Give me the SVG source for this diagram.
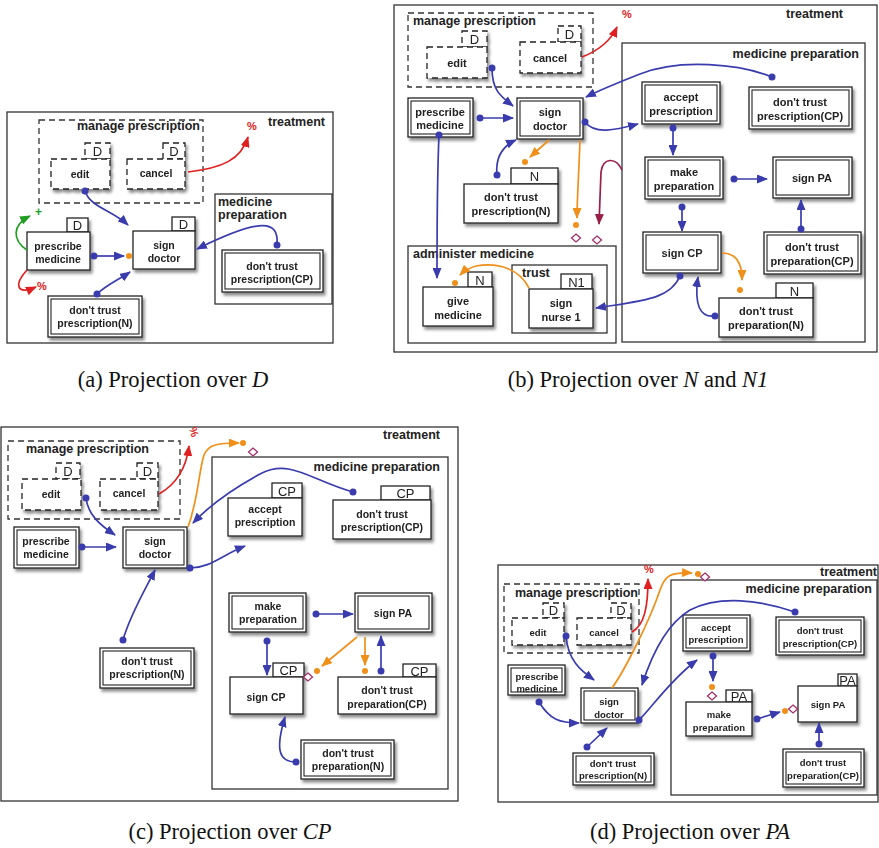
<svg xmlns="http://www.w3.org/2000/svg" xmlns:xlink="http://www.w3.org/1999/xlink" width="879" height="848" viewBox="0 0 879 848">
<defs>
<filter id="sh" x="-20%" y="-20%" width="150%" height="170%"><feDropShadow dx="2" dy="3" stdDeviation="1.8" flood-color="#000" flood-opacity="0.45"/></filter>
<marker id="ab" markerUnits="userSpaceOnUse" markerWidth="11" markerHeight="9" refX="10" refY="4.5" orient="auto"><path d="M0,0 L11,4.5 L0,9 z" fill="#3a3cae"/></marker>
<marker id="ao" markerUnits="userSpaceOnUse" markerWidth="11" markerHeight="9" refX="10" refY="4.5" orient="auto"><path d="M0,0 L11,4.5 L0,9 z" fill="#f0901a"/></marker>
<marker id="ar" markerUnits="userSpaceOnUse" markerWidth="11" markerHeight="9" refX="10" refY="4.5" orient="auto"><path d="M0,0 L11,4.5 L0,9 z" fill="#e02020"/></marker>
<marker id="ag" markerUnits="userSpaceOnUse" markerWidth="11" markerHeight="9" refX="10" refY="4.5" orient="auto"><path d="M0,0 L11,4.5 L0,9 z" fill="#20a020"/></marker>
<marker id="am" markerUnits="userSpaceOnUse" markerWidth="11" markerHeight="9" refX="10" refY="4.5" orient="auto"><path d="M0,0 L11,4.5 L0,9 z" fill="#9a1e48"/></marker>
<path id="dia" d="M0,-4 L4.5,0 L0,4 L-4.5,0 z"/>
</defs>
<style>
.frame{fill:none;stroke:#333;stroke-width:1.3}
.dframe{fill:none;stroke:#333;stroke-width:1.3;stroke-dasharray:6,4}
.box{fill:#fff;stroke:#222;stroke-width:1.3}
.dbox{fill:#fff;stroke:#222;stroke-width:1.3;stroke-dasharray:6,4}
.in{fill:none;stroke:#222;stroke-width:1.1}
.sh{filter:url(#sh)}
.t{font-family:"Liberation Sans",Arial,sans-serif;font-weight:bold;fill:#222;text-anchor:middle}
.ta{font-size:10.5px}.tb{font-size:11px}.tc{font-size:10.5px}.td{font-size:9.5px}
.tab{font-family:"Liberation Sans",Arial,sans-serif;font-size:13px;fill:#222;text-anchor:middle}
.title{font-family:"Liberation Sans",Arial,sans-serif;font-weight:bold;fill:#222;font-size:12.5px}
.bl{fill:none;stroke:#3a3cae;stroke-width:1.7}
.or{fill:none;stroke:#f0901a;stroke-width:1.7}
.rd{fill:none;stroke:#e02020;stroke-width:1.7}
.gr{fill:none;stroke:#20a020;stroke-width:1.7}
.mr{fill:none;stroke:#9a1e48;stroke-width:1.7}
.db{fill:#3a3cae}.do{fill:#f0901a}
.di{fill:#fff;stroke:#a0306a;stroke-width:1.3}
.pct{font-family:"Liberation Sans",Arial,sans-serif;font-size:11px;fill:#e02020;font-weight:bold}
.cap{font-family:"Liberation Serif","Times New Roman",serif;font-size:22.5px;fill:#111;text-anchor:middle}
</style>

<!-- ================= PANEL A ================= -->
<g id="a-panel">
<rect class="frame" x="7" y="112" width="326" height="231"/>
<text class="title" x="268" y="126">treatment</text>
<rect class="dframe" x="39" y="120" width="164" height="83"/>
<text class="title" x="77" y="130" font-size="12">manage prescription</text>
<rect class="frame" x="215" y="194" width="117" height="110"/>
<text class="title" x="218" y="206">medicine</text>
<text class="title" x="218" y="219">preparation</text>
</g>
<g id="a-edit" class="sh"><rect class="dbox" x="85" y="143" width="25" height="16"/><text class="tab" x="97.5" y="156">D</text><rect class="dbox" x="51" y="159" width="59" height="30"/><text class="t ta" x="80" y="178">edit</text></g>
<g id="a-cancel" class="sh"><rect class="dbox" x="163" y="143" width="22" height="16"/><text class="tab" x="174" y="156">D</text><rect class="dbox" x="127" y="159" width="58" height="30"/><text class="t ta" x="156" y="177">cancel</text></g>
<g id="a-prescribe" class="sh"><rect class="box" x="67" y="218" width="21" height="14"/><text class="tab" x="77.5" y="230">D</text><rect class="box" x="27" y="232" width="63" height="38"/><text class="t ta" x="58" y="250">prescribe</text><text class="t ta" x="58" y="263">medicine</text></g>
<g id="a-signdoctor" class="sh"><rect class="box" x="172" y="217" width="23" height="14"/><text class="tab" x="183.5" y="229">D</text><rect class="box" x="133" y="231" width="62" height="38"/><text class="t ta" x="164" y="249">sign</text><text class="t ta" x="164" y="262">doctor</text></g>
<g id="a-dtpcp" class="sh"><rect class="box" x="222" y="250" width="101" height="42"/><rect class="in" x="225" y="253" width="95" height="36"/><text class="t ta" x="272" y="270">don't trust</text><text class="t ta" x="272" y="283">prescription(CP)</text></g>
<g id="a-dtpn" class="sh"><rect class="box" x="48" y="296" width="94" height="41"/><rect class="in" x="51" y="299" width="88" height="35"/><text class="t ta" x="95" y="314">don't trust</text><text class="t ta" x="95" y="327">prescription(N)</text></g>
<g id="a-connectors">
<path class="bl" d="M85,191 C90,207 112,210 128,225" marker-end="url(#ab)"/><circle class="db" cx="85" cy="191" r="3.5"/>
<path class="bl" d="M94,256 L124,256" marker-end="url(#ab)"/><circle class="db" cx="94" cy="256" r="3.5"/><circle class="do" cx="129" cy="256" r="3"/>
<path class="bl" d="M97,294 C106,285 118,280 130,272" marker-end="url(#ab)"/><circle class="db" cx="97" cy="294" r="3.5"/>
<path class="bl" d="M277,245 C279,220 262,217 197,249" marker-end="url(#ab)"/><circle class="db" cx="277" cy="245" r="3.5"/>
<path class="rd" d="M188,172 C222,168 241,160 248,137" marker-end="url(#ar)"/>
<text class="pct" x="247" y="130">%</text>
<path class="gr" d="M27,250 C12,240 12,225 30,216" marker-end="url(#ag)"/>
<text x="35" y="216" font-family="Liberation Sans,Arial,sans-serif" font-size="12" font-weight="bold" fill="#20a020">+</text>
<path class="rd" d="M27,270 C14,284 16,296 36,287" marker-end="url(#ar)"/>
<text class="pct" x="37" y="290">%</text>
</g>

<!-- ================= PANEL B ================= -->
<g id="b-panel">
<rect class="frame" x="394" y="5" width="483" height="347"/>
<text class="title" x="786" y="18">treatment</text>
<rect class="dframe" x="408" y="13" width="185" height="74"/>
<text class="title" x="413" y="25">manage prescription</text>
<rect class="frame" x="622" y="43" width="243" height="299"/>
<text class="title" x="859" y="58" text-anchor="end">medicine preparation</text>
<rect class="frame" x="408" y="246" width="208" height="97"/>
<text class="title" x="413" y="258">administer medicine</text>
<rect class="frame" x="512" y="265" width="95" height="68"/>
<text class="title" x="522" y="277">trust</text>
</g>
<g id="b-edit" class="sh"><rect class="dbox" x="462" y="31" width="25" height="16"/><text class="tab" x="474.5" y="44">D</text><rect class="dbox" x="427" y="47" width="60" height="31"/><text class="t tb" x="457" y="67">edit</text></g>
<g id="b-cancel" class="sh"><rect class="dbox" x="558" y="26" width="23" height="16"/><text class="tab" x="569.5" y="39">D</text><rect class="dbox" x="520" y="42" width="61" height="31"/><text class="t tb" x="550" y="62">cancel</text></g>
<g id="b-prescribe" class="sh"><rect class="box" x="408" y="98" width="65" height="39"/><rect class="in" x="411" y="101" width="59" height="33"/><text class="t tb" x="440" y="116">prescribe</text><text class="t tb" x="440" y="129">medicine</text></g>
<g id="b-signdoctor" class="sh"><rect class="box" x="517" y="98" width="66" height="41"/><rect class="in" x="520" y="101" width="60" height="35"/><text class="t tb" x="550" y="116">sign</text><text class="t tb" x="550" y="130">doctor</text></g>
<g id="b-accept" class="sh"><rect class="box" x="642" y="82" width="78" height="42"/><rect class="in" x="645" y="85" width="72" height="36"/><text class="t tb" x="681" y="101">accept</text><text class="t tb" x="681" y="115">prescription</text></g>
<g id="b-dtpcp" class="sh"><rect class="box" x="749" y="87" width="103" height="42"/><rect class="in" x="752" y="90" width="97" height="36"/><text class="t tb" x="800" y="106">don't trust</text><text class="t tb" x="800" y="120">prescription(CP)</text></g>
<g id="b-make" class="sh"><rect class="box" x="645" y="157" width="78" height="42"/><rect class="in" x="648" y="160" width="72" height="36"/><text class="t tb" x="684" y="176">make</text><text class="t tb" x="684" y="190">preparation</text></g>
<g id="b-signpa" class="sh"><rect class="box" x="773" y="157" width="79" height="41"/><rect class="in" x="776" y="160" width="73" height="35"/><text class="t tb" x="812" y="182">sign PA</text></g>
<g id="b-signcp" class="sh"><rect class="box" x="643" y="232" width="78" height="41"/><rect class="in" x="646" y="235" width="72" height="35"/><text class="t tb" x="682" y="257">sign CP</text></g>
<g id="b-dtprepcp" class="sh"><rect class="box" x="764" y="232" width="97" height="42"/><rect class="in" x="767" y="235" width="91" height="36"/><text class="t tb" x="812" y="251">don't trust</text><text class="t tb" x="812" y="265">preparation(CP)</text></g>
<g id="b-dtprepn" class="sh"><rect class="box" x="776" y="283" width="37" height="15"/><text class="tab" x="794.5" y="296">N</text><rect class="box" x="719" y="298" width="94" height="39"/><text class="t tb" x="766" y="315">don't trust</text><text class="t tb" x="766" y="329">preparation(N)</text></g>
<g id="b-dtpn" class="sh"><rect class="box" x="511" y="168" width="47" height="16"/><text class="tab" x="534.5" y="181">N</text><rect class="box" x="464" y="184" width="94" height="39"/><text class="t tb" x="511" y="201">don't trust</text><text class="t tb" x="511" y="215">prescription(N)</text></g>
<g id="b-give" class="sh"><rect class="box" x="468" y="272" width="24" height="15"/><text class="tab" x="480" y="285">N</text><rect class="box" x="423" y="287" width="70" height="39"/><text class="t tb" x="458" y="305">give</text><text class="t tb" x="458" y="319">medicine</text></g>
<g id="b-nurse" class="sh"><rect class="box" x="561" y="274" width="31" height="15"/><text class="tab" x="576.5" y="287">N1</text><rect class="box" x="529" y="289" width="64" height="39"/><text class="t tb" x="561" y="307">sign</text><text class="t tb" x="561" y="321">nurse 1</text></g>
<g id="b-connectors">
<path class="rd" d="M582,57 C600,50 611,40 617,27" marker-end="url(#ar)"/>
<text class="pct" x="622" y="18">%</text>
<path class="bl" d="M492,68 C492,90 500,96 513,106" marker-end="url(#ab)"/><circle class="db" cx="492" cy="68" r="3.5"/>
<path class="bl" d="M480,118 L513,118" marker-end="url(#ab)"/><circle class="db" cx="480" cy="118" r="3.5"/>
<path class="bl" d="M772,77 C740,64 680,58 640,74 C612,85 598,91 586,97" marker-end="url(#ab)"/><circle class="db" cx="772" cy="77" r="3.5"/>
<path class="bl" d="M585,122 C595,135 615,130 638,124" marker-end="url(#ab)"/><circle class="db" cx="585" cy="122" r="3.5"/>
<path class="bl" d="M673,128 L673,155" marker-end="url(#ab)"/><circle class="db" cx="673" cy="128" r="3.5"/>
<path class="bl" d="M734,179 L767,179" marker-end="url(#ab)"/><circle class="db" cx="734" cy="179" r="3.5"/>
<path class="bl" d="M682,207 L682,231" marker-end="url(#ab)"/><circle class="db" cx="682" cy="207" r="3.5"/>
<path class="bl" d="M801,229 L801,200" marker-end="url(#ab)"/><circle class="db" cx="801" cy="229" r="3.5"/>
<path class="or" d="M722,253 C735,253 742,262 742,280" marker-end="url(#ao)"/><circle class="do" cx="740" cy="290" r="3"/>
<path class="bl" d="M715,316 C700,318 694,305 698,277" marker-end="url(#ab)"/><circle class="db" cx="715" cy="316" r="3.5"/>
<path class="bl" d="M680,276 C670,300 640,301 596,308" marker-end="url(#ab)"/><circle class="db" cx="680" cy="276" r="3.5"/>
<path class="or" d="M549,140 L530,157" marker-end="url(#ao)"/><circle class="do" cx="525" cy="162" r="3"/>
<path class="bl" d="M497,175 C495,155 505,145 516,140" marker-end="url(#ab)"/><circle class="db" cx="497" cy="175" r="3.5"/>
<path class="bl" d="M439,135 C437,180 437,240 437,278" marker-end="url(#ab)"/><circle class="db" cx="439" cy="135" r="3.5"/>
<path class="or" d="M580,140 C579,170 577,200 577,218" marker-end="url(#ao)"/><circle class="do" cx="576" cy="225" r="3"/><use href="#dia" class="di" x="576" y="238"/>
<path class="mr" d="M622,170 C616,157 603,157 601,172 L599,224" marker-end="url(#am)"/><use href="#dia" class="di" x="597" y="240"/>
<path class="or" d="M529,288 C520,270 500,262 476,266 C469,268 464,271 460,275" marker-end="url(#ao)"/><circle class="do" cx="455" cy="283" r="3"/>
</g>

<!-- ================= PANEL C ================= -->
<g id="c-panel">
<rect class="frame" x="1" y="427" width="457" height="374"/>
<text class="title" x="383" y="439">treatment</text>
<rect class="dframe" x="8" y="441" width="172" height="78"/>
<text class="title" x="26" y="453">manage prescription</text>
<rect class="frame" x="212" y="457" width="236" height="332"/>
<text class="title" x="440" y="471" text-anchor="end">medicine preparation</text>
</g>
<g id="c-edit" class="sh"><rect class="dbox" x="56" y="463" width="24" height="16"/><text class="tab" x="68" y="476">D</text><rect class="dbox" x="22" y="479" width="59" height="31"/><text class="t tc" x="51" y="498">edit</text></g>
<g id="c-cancel" class="sh"><rect class="dbox" x="137" y="463" width="21" height="16"/><text class="tab" x="147.5" y="476">D</text><rect class="dbox" x="100" y="479" width="58" height="31"/><text class="t tc" x="129" y="497">cancel</text></g>
<g id="c-prescribe" class="sh"><rect class="box" x="14" y="527" width="65" height="41"/><rect class="in" x="17" y="530" width="59" height="35"/><text class="t tc" x="46" y="545">prescribe</text><text class="t tc" x="46" y="558">medicine</text></g>
<g id="c-signdoctor" class="sh"><rect class="box" x="123" y="527" width="64" height="41"/><rect class="in" x="126" y="530" width="58" height="35"/><text class="t tc" x="155" y="545">sign</text><text class="t tc" x="155" y="558">doctor</text></g>
<g id="c-accept" class="sh"><rect class="box" x="272" y="483" width="30" height="15"/><text class="tab" x="287" y="496">CP</text><rect class="box" x="228" y="498" width="74" height="38"/><text class="t tc" x="265" y="513">accept</text><text class="t tc" x="265" y="526">prescription</text></g>
<g id="c-dtpcp" class="sh"><rect class="box" x="381" y="486" width="49" height="14"/><text class="tab" x="405.5" y="498">CP</text><rect class="box" x="333" y="500" width="98" height="39"/><text class="t tc" x="382" y="518">don't trust</text><text class="t tc" x="382" y="531">prescription(CP)</text></g>
<g id="c-dtpn" class="sh"><rect class="box" x="100" y="648" width="94" height="40"/><rect class="in" x="103" y="651" width="88" height="34"/><text class="t tc" x="147" y="665">don't trust</text><text class="t tc" x="147" y="678">prescription(N)</text></g>
<g id="c-make" class="sh"><rect class="box" x="229" y="593" width="77" height="39"/><rect class="in" x="232" y="596" width="71" height="33"/><text class="t tc" x="268" y="610">make</text><text class="t tc" x="268" y="623">preparation</text></g>
<g id="c-signpa" class="sh"><rect class="box" x="355" y="593" width="77" height="39"/><rect class="in" x="358" y="596" width="71" height="33"/><text class="t tc" x="393" y="617">sign PA</text></g>
<g id="c-signcp" class="sh"><rect class="box" x="273" y="663" width="31" height="14"/><text class="tab" x="288.5" y="675">CP</text><rect class="box" x="230" y="677" width="73" height="37"/><text class="t tc" x="266" y="701">sign CP</text></g>
<g id="c-dtprepcp" class="sh"><rect class="box" x="403" y="664" width="33" height="13"/><text class="tab" x="419.5" y="676">CP</text><rect class="box" x="338" y="677" width="98" height="37"/><text class="t tc" x="387" y="694">don't trust</text><text class="t tc" x="387" y="708">preparation(CP)</text></g>
<g id="c-dtprepn" class="sh"><rect class="box" x="301" y="740" width="93" height="39"/><rect class="in" x="304" y="743" width="87" height="33"/><text class="t tc" x="348" y="757">don't trust</text><text class="t tc" x="348" y="770">preparation(N)</text></g>
<g id="c-connectors">
<path class="rd" d="M159,494 C175,485 186,470 189,446" marker-end="url(#ar)"/>
<text class="pct" x="186" y="432" transform="rotate(75 190 432)">%</text>
<path class="bl" d="M86,498 C88,515 100,525 115,535" marker-end="url(#ab)"/><circle class="db" cx="86" cy="498" r="3.5"/>
<path class="bl" d="M82,547 L116,547" marker-end="url(#ab)"/><circle class="db" cx="82" cy="547" r="3.5"/>
<path class="or" d="M188,527 C198,500 199,470 204,455 C208,445 216,443 239,443" marker-end="url(#ao)"/><circle class="do" cx="243" cy="443" r="3"/><use href="#dia" class="di" x="253" y="452"/>
<path class="bl" d="M353,492 C310,480 290,458 260,474 C236,487 210,505 193,523" marker-end="url(#ab)"/><circle class="db" cx="353" cy="492" r="3.5"/>
<path class="bl" d="M190,568 C210,568 222,555 245,546" marker-end="url(#ab)"/><circle class="db" cx="190" cy="568" r="3.5"/>
<path class="bl" d="M123,640 C130,615 145,590 155,570" marker-end="url(#ab)"/><circle class="db" cx="123" cy="640" r="3.5"/>
<path class="bl" d="M316,614 L353,614" marker-end="url(#ab)"/><circle class="db" cx="316" cy="614" r="3.5"/>
<path class="bl" d="M267,641 L267,675" marker-end="url(#ab)"/><circle class="db" cx="267" cy="641" r="3.5"/>
<path class="or" d="M357,637 L322,666" marker-end="url(#ao)"/><circle class="do" cx="317" cy="671" r="3"/><use href="#dia" class="di" x="308" y="677"/>
<path class="or" d="M365,637 L365,665" marker-end="url(#ao)"/><circle class="do" cx="365" cy="671" r="3"/>
<path class="bl" d="M381,671 L381,636" marker-end="url(#ab)"/><circle class="db" cx="381" cy="671" r="3.5"/>
<path class="bl" d="M296,762 C279,762 275,750 285,717" marker-end="url(#ab)"/><circle class="db" cx="296" cy="762" r="3.5"/>
</g>

<!-- ================= PANEL D ================= -->
<g id="d-panel">
<rect class="frame" x="498" y="565" width="380" height="237"/>
<text class="title" x="877" y="576" text-anchor="end" font-size="11">treatment</text>
<rect class="dframe" x="504" y="584" width="135" height="69"/>
<text class="title" x="515" y="597" font-size="11">manage prescription</text>
<rect class="frame" x="671" y="580" width="206" height="215"/>
<text class="title" x="872" y="593" text-anchor="end" font-size="11">medicine preparation</text>
</g>
<g id="d-edit" class="sh"><rect class="dbox" x="543" y="603" width="21" height="15"/><text class="tab" x="553.5" y="615" font-size="12">D</text><rect class="dbox" x="512" y="618" width="52" height="27"/><text class="t td" x="538" y="636">edit</text></g>
<g id="d-cancel" class="sh"><rect class="dbox" x="611" y="603" width="20" height="15"/><text class="tab" x="621" y="615" font-size="12">D</text><rect class="dbox" x="577" y="618" width="54" height="27"/><text class="t td" x="604" y="636">cancel</text></g>
<g id="d-prescribe" class="sh"><rect class="box" x="508" y="665" width="57" height="30"/><rect class="in" x="511" y="668" width="51" height="24"/><text class="t td" x="537" y="680">prescribe</text><text class="t td" x="537" y="692">medicine</text></g>
<g id="d-signdoctor" class="sh"><rect class="box" x="581" y="688" width="57" height="35"/><rect class="in" x="584" y="691" width="51" height="29"/><text class="t td" x="609" y="705">sign</text><text class="t td" x="609" y="718">doctor</text></g>
<g id="d-dtpn" class="sh"><rect class="box" x="573" y="753" width="81" height="32"/><rect class="in" x="576" y="756" width="75" height="26"/><text class="t td" x="613" y="767">don't trust</text><text class="t td" x="613" y="779">prescription(N)</text></g>
<g id="d-accept" class="sh"><rect class="box" x="683" y="615" width="67" height="36"/><rect class="in" x="686" y="618" width="61" height="30"/><text class="t td" x="716" y="631">accept</text><text class="t td" x="716" y="643">prescription</text></g>
<g id="d-dtpcp" class="sh"><rect class="box" x="776" y="617" width="88" height="38"/><rect class="in" x="779" y="620" width="82" height="32"/><text class="t td" x="820" y="634">don't trust</text><text class="t td" x="820" y="647">prescription(CP)</text></g>
<g id="d-make" class="sh"><rect class="box" x="726" y="690" width="26" height="12"/><text class="tab" x="739" y="701" font-size="11">PA</text><rect class="box" x="686" y="702" width="66" height="34"/><text class="t td" x="719" y="718">make</text><text class="t td" x="719" y="731">preparation</text></g>
<g id="d-signpa" class="sh"><rect class="box" x="838" y="674" width="19" height="12"/><text class="tab" x="847.5" y="685" font-size="11">PA</text><rect class="box" x="798" y="686" width="59" height="36"/><text class="t td" x="828" y="708">sign PA</text></g>
<g id="d-dtprepcp" class="sh"><rect class="box" x="783" y="749" width="81" height="38"/><rect class="in" x="786" y="752" width="75" height="32"/><text class="t td" x="823" y="766">don't trust</text><text class="t td" x="823" y="779">preparation(CP)</text></g>
<g id="d-connectors">
<path class="rd" d="M632,632 C645,625 648,605 648,579" marker-end="url(#ar)"/>
<text class="pct" x="644" y="573">%</text>
<path class="bl" d="M566,636 C568,660 580,670 594,680" marker-end="url(#ab)"/><circle class="db" cx="566" cy="636" r="3.5"/>
<path class="bl" d="M539,702 C550,720 560,723 579,723" marker-end="url(#ab)"/><circle class="db" cx="539" cy="702" r="3.5"/>
<path class="bl" d="M587,747 L607,728" marker-end="url(#ab)"/><circle class="db" cx="587" cy="747" r="3.5"/>
<path class="or" d="M612,688 C625,670 650,620 660,590 C665,575 671,572 692,573" marker-end="url(#ao)"/><circle class="do" cx="698" cy="574" r="3"/><use href="#dia" class="di" x="705" y="577"/>
<path class="bl" d="M639,720 C650,710 670,680 697,660" marker-end="url(#ab)"/><circle class="db" cx="639" cy="720" r="3.5"/>
<path class="bl" d="M795,612 C760,600 720,595 690,610 C665,625 650,660 642,685" marker-end="url(#ab)"/><circle class="db" cx="795" cy="612" r="3.5"/>
<path class="bl" d="M713,656 L713,681" marker-end="url(#ab)"/><circle class="db" cx="713" cy="656" r="3.5"/><circle class="do" cx="712" cy="687" r="3"/><use href="#dia" class="di" x="712" y="696"/>
<path class="bl" d="M757,719 L780,712" marker-end="url(#ab)"/><circle class="db" cx="757" cy="719" r="3.5"/><circle class="do" cx="785" cy="711" r="3"/><use href="#dia" class="di" x="793" y="709"/>
<path class="bl" d="M819,744 L819,723" marker-end="url(#ab)"/><circle class="db" cx="819" cy="744" r="3.5"/>
</g>

<!-- ================= CAPTIONS ================= -->
<g id="captions">
<text class="cap" x="173" y="387">(a)  Projection over <tspan font-style="italic">D</tspan></text>
<text class="cap" x="638" y="387">(b)  Projection over <tspan font-style="italic">N</tspan> and <tspan font-style="italic">N1</tspan></text>
<text class="cap" x="230" y="839">(c)  Projection over <tspan font-style="italic">CP</tspan></text>
<text class="cap" x="690" y="839">(d)  Projection over <tspan font-style="italic">PA</tspan></text>
</g>
</svg>
